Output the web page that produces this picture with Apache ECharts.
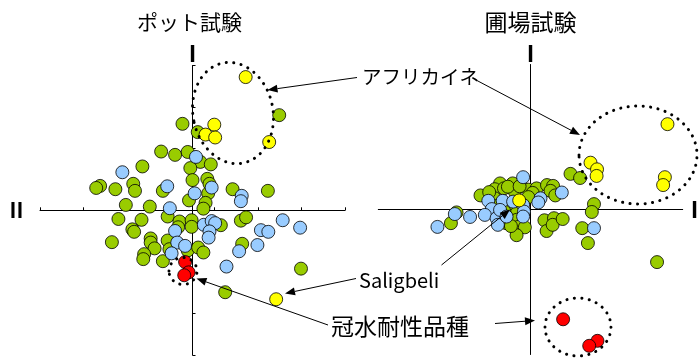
<!DOCTYPE html>
<html>
<head>
<meta charset="utf-8">
<script src="https://cdn.jsdelivr.net/npm/echarts@6/dist/echarts.min.js"></script>
<style>
  html, body { margin: 0; padding: 0; background: #fff; }
  #chart { width: 699px; height: 358px; }
</style>
</head>
<body>
<div id="chart"></div>
<script>
// Principal component scores (PC I on the vertical axis, PC II on the horizontal axis)
const panelTitles = ['ポット試験', '圃場試験'];
const tickValues = [-3.5, -2.5, -1.5, -0.5, 0.5, 1.5, 2.5, 3.5];

// Pot trial
const potGreen = [
  [1.99, 2.30], [-0.23, 2.09], [0.12, 1.89], [-0.72, 1.42], [-0.40, 1.34], [-0.11, 1.41],
  [0.18, 1.17], [0.42, 1.11], [-0.05, 1.02], [-1.15, 1.06], [0.00, 0.73], [0.34, 0.76],
  [0.39, 0.64], [-1.36, 0.64], [-1.32, 0.47], [-2.12, 0.59], [-2.21, 0.54], [-1.77, 0.51],
  [-0.68, 0.47], [0.36, 0.41], [0.92, 0.51], [1.73, 0.47], [-0.08, 0.24], [0.30, 0.18],
  [0.25, 0.04], [-1.53, 0.13], [-0.98, 0.09], [-1.70, -0.21], [-1.17, -0.23], [-0.57, -0.15],
  [-0.30, -0.27], [-0.33, -0.41], [-0.02, -0.24], [-0.02, -0.40], [0.65, -0.36], [1.11, -0.25],
  [1.23, -0.17], [-1.38, -0.46], [-1.34, -0.52], [-1.85, -0.77], [-0.96, -0.68], [-0.96, -0.78],
  [-0.87, -0.92], [-0.57, -0.73], [-0.53, -0.94], [-1.11, -1.06], [-1.13, -1.18], [-0.68, -1.23],
  [-0.11, -0.97], [0.13, -0.90], [0.25, -1.02], [1.14, -0.81], [2.49, -1.41], [0.75, -1.98]
];
const potBlue = [
  [0.08, 1.29], [-1.61, 0.92], [-0.58, 0.58], [0.44, 0.55], [0.05, 0.41], [1.13, 0.35],
  [1.11, 0.22], [-0.52, 0.05], [0.26, -0.35], [0.44, -0.26], [0.52, -0.31], [0.39, -0.51],
  [0.37, -0.66], [2.07, -0.24], [2.47, -0.42], [1.57, -0.48], [1.74, -0.52], [-0.40, -0.50],
  [-0.35, -0.78], [-0.17, -0.86], [-0.48, -1.04], [1.07, -0.99], [1.49, -0.84], [0.78, -1.36]
];
const potYellow = [
  [1.22, 3.22], [0.50, 2.07], [0.30, 1.83], [0.52, 1.76], [1.76, 1.65], [1.92, -2.15]
];
const potRed = [
  [-0.17, -1.25], [-0.09, -1.50], [-0.19, -1.57]
];

// Field trial
const fieldGreen = [
  [-0.41, 0.63], [-0.70, 0.63], [-0.82, 0.49], [-0.61, 0.51], [-0.36, 0.43], [-0.05, 0.48],
  [0.14, 0.51], [0.38, 0.59], [0.52, 0.57], [0.46, 0.45], [0.57, 0.34], [-1.15, 0.34],
  [-0.82, 0.27], [-0.43, 0.07], [-0.32, -0.09], [-1.70, -0.07], [-1.83, -0.33], [-0.56, -0.33],
  [-0.32, -0.25], [-0.28, -0.42], [-0.13, -0.43], [-0.32, -0.62], [0.32, -0.26], [0.37, -0.52],
  [0.54, -0.21], [0.51, -0.37], [0.74, -0.23], [0.92, 0.86], [1.14, 0.76], [1.46, 0.13],
  [1.41, -0.06], [1.19, -0.45], [1.32, -0.81], [2.91, -1.27], [-0.72, 0.11], [-0.95, 0.42],
  [-0.52, 0.55], [-0.25, 0.56], [0.05, 0.40], [-0.05, 0.30], [-0.60, -0.05], [-0.45, -0.40]
];
const fieldBlue = [
  [-0.17, 0.78], [0.72, 0.41], [0.23, 0.27], [0.18, 0.17], [-0.97, 0.21], [-0.64, 0.21],
  [-0.40, 0.19], [-0.89, 0.01], [-1.05, -0.13], [-1.39, -0.18], [-1.74, -0.11], [-2.14, -0.42],
  [-0.78, -0.21], [-0.75, -0.37], [-0.70, -0.01], [-0.17, 0.11], [-0.15, -0.05], [-0.17, -0.17],
  [1.46, -0.45], [-0.55, -0.17]
];
const fieldYellow = [
  [3.15, 2.06], [1.38, 1.13], [1.53, 0.97], [1.52, 0.81], [3.09, 0.78], [3.05, 0.59], [-0.26, 0.22]
];
const fieldRed = [
  [0.75, -2.65], [1.54, -3.17], [1.35, -3.29]
];

const groupColors = { green: '#99CC00', blue: '#99CCFF', yellow: '#FFFF00', red: '#FF0000' };
const FONT = '"Noto Sans CJK JP", "Noto Sans", sans-serif';

const chart = echarts.init(document.getElementById('chart'), null, { renderer: 'canvas' });

function axisPair(showTicks) {
  const tick = showTicks
    ? { show: true, inside: true, length: 3, customValues: tickValues, lineStyle: { color: '#000', width: 1 } }
    : { show: false };
  return {
    type: 'value', min: -3.5, max: 3.5,
    axisLine: { show: true, onZero: true, lineStyle: { color: '#000', width: 1 } },
    axisTick: tick,
    axisLabel: { show: false },
    splitLine: { show: false }
  };
}

function scatter(data, color, gi, z) {
  return {
    type: 'scatter', data: data, xAxisIndex: gi, yAxisIndex: gi,
    symbol: 'circle', symbolSize: 13, z: z,
    itemStyle: { color: color, borderColor: '#000', borderWidth: 0.8, opacity: 1 },
    emphasis: { disabled: true }, silent: true
  };
}

function text(str, x, y, size, align, weight) {
  return {
    type: 'text', x: x, y: y, z: 200,
    style: {
      text: str, fill: '#000',
      fontSize: size, fontFamily: FONT, fontWeight: weight || 'normal',
      textAlign: align || 'center', textVerticalAlign: 'middle',
      align: align || 'center', verticalAlign: 'middle'
    }
  };
}

function arrow(x1, y1, x2, y2) {
  const ang = Math.atan2(y2 - y1, x2 - x1);
  const L = 10, W = 4;
  const bx = x2 - L * Math.cos(ang), by = y2 - L * Math.sin(ang);
  const px = -Math.sin(ang) * W, py = Math.cos(ang) * W;
  return [
    { type: 'line', z: 200, shape: { x1: x1, y1: y1, x2: bx, y2: by }, style: { stroke: '#000', lineWidth: 1 } },
    { type: 'polygon', z: 200, shape: { points: [[x2, y2], [bx + px, by + py], [bx - px, by - py]] }, style: { fill: '#000' } }
  ];
}

function dottedEllipse(cx, cy, rx, ry, rot) {
  return {
    type: 'ellipse', x: cx, y: cy, rotation: rot || 0, z: 150,
    shape: { cx: 0, cy: 0, rx: rx, ry: ry },
    style: { fill: null, stroke: '#000', lineWidth: 3, lineDash: [0.1, 7.4], lineCap: 'round' }
  };
}

const graphics = [
  text(panelTitles[0], 189.5, 22, 21),
  text(panelTitles[1], 530.5, 22, 23),
  text('I', 192.5, 53, 23, 'center', 'bold'),
  text('II', 16.5, 210, 21, 'center', 'bold'),
  text('I', 530.5, 53, 23, 'center', 'bold'),
  text('I', 694.5, 209.5, 23, 'center', 'bold'),
  text('アフリカイネ', 362, 77, 19.5, 'left'),
  text('Saligbeli', 359, 280, 20, 'left'),
  text('冠水耐性品種', 331, 326, 23, 'left'),
  dottedEllipse(233, 113, 40, 51, 0.2),
  dottedEllipse(183, 271, 14, 13.5, 0),
  dottedEllipse(638, 155, 59, 49, 0),
  dottedEllipse(578, 327, 33, 29, 0)
].concat(
  arrow(357, 77.5, 267.5, 90),
  arrow(476, 80, 580, 135),
  arrow(356, 278.5, 285, 293.5),
  arrow(441.5, 265, 510, 209.5),
  arrow(328, 325, 196.5, 278.5),
  arrow(495, 323.5, 535, 320.5)
);

chart.setOption({
  animation: false,
  backgroundColor: '#fff',
  grid: [
    { left: 40, top: 65.5, width: 305, height: 289.6, containLabel: false },
    { left: 378.3, top: 64.5, width: 304.4, height: 290, containLabel: false }
  ],
  xAxis: [
    Object.assign(axisPair(true), { gridIndex: 0 }),
    Object.assign(axisPair(false), { gridIndex: 1 })
  ],
  yAxis: [
    Object.assign(axisPair(true), { gridIndex: 0 }),
    Object.assign(axisPair(false), { gridIndex: 1 })
  ],
  series: [
    scatter(potGreen, groupColors.green, 0, 2),
    scatter(potBlue, groupColors.blue, 0, 3),
    scatter(potYellow, groupColors.yellow, 0, 4),
    scatter(potRed, groupColors.red, 0, 5),
    scatter(fieldGreen, groupColors.green, 1, 2),
    scatter(fieldBlue, groupColors.blue, 1, 3),
    scatter(fieldYellow, groupColors.yellow, 1, 4),
    scatter(fieldRed, groupColors.red, 1, 5)
  ],
  graphic: { elements: graphics }
});
</script>
</body>
</html>
